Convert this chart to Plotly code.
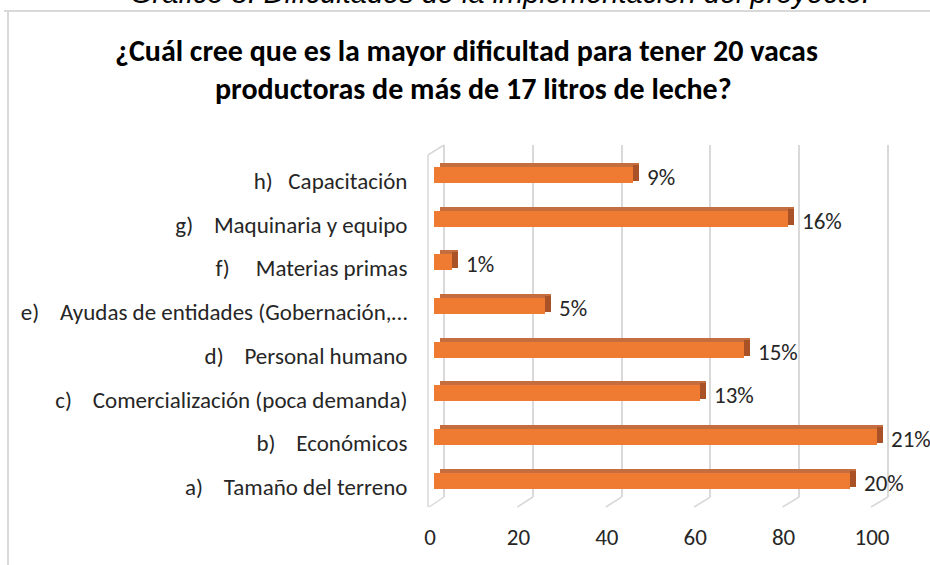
import plotly.graph_objects as go

# ---------------- data ----------------
categories = [
    "a)\u00a0\u00a0\u00a0\u00a0Tamaño del terreno",
    "b)\u00a0\u00a0\u00a0\u00a0Económicos",
    "c)\u00a0\u00a0\u00a0\u00a0Comercialización (poca demanda)",
    "d)\u00a0\u00a0\u00a0\u00a0Personal humano",
    "e)\u00a0\u00a0\u00a0\u00a0Ayudas de entidades (Gobernación,…",
    "f)\u00a0\u00a0\u00a0\u00a0\u00a0Materias primas",
    "g)\u00a0\u00a0\u00a0\u00a0Maquinaria y equipo",
    "h)\u00a0\u00a0\u00a0Capacitación",
]
values = [94, 100, 60, 70, 25, 4, 80, 45]
pct_labels = ["20%", "21%", "13%", "15%", "5%", "1%", "16%", "9%"]
x_ticks = [0, 20, 40, 60, 80, 100]

title_line1 = "¿Cuál cree que es la mayor dificultad para tener 20 vacas"
title_line2 = "productoras de más de 17 litros de leche?"
caption = "Gráfico 8. Dificultades de la implementación del proyecto."

# ---------------- geometry (pixels) ----------------
W, H = 930, 565
PL, PR, PT, PB = 420, 900, 145, 497          # plot area in pixels
pw, ph = PR - PL, PB - PT
bar0, bar_s = 434, 4.43                        # bar axis: pixel of 0, px per unit
grid0, grid_s = 444, 4.44                      # back-wall gridlines
lab0, lab_s = 430, 4.42                        # front tick labels
yrange = [-0.23, 7.82]
ypx = ph / (yrange[1] - yrange[0])

def rng(p0, s):
    return [(PL - p0) / s, (PR - p0) / s]

def py(p):  # pixel y -> paper
    return (PB - p) / ph

def px(p):  # pixel x -> paper
    return (p - PL) / pw

bw = 16 / ypx                  # bar thickness
front_off = 6 / ypx - bw / 2   # front face centre 6 px above category
depth_y = 4 / ypx
depth_x = 6 / bar_s

font_fam = "Carlito, Lato, 'Open Sans', sans-serif"
txt_col = "#262626"

fig = go.Figure()

# top (depth) face
fig.add_trace(go.Bar(
    y=categories, x=values, base=depth_x, orientation="h",
    width=bw, offset=front_off + depth_y,
    marker=dict(color="#c46d3e", line=dict(width=0)),
    hoverinfo="skip", showlegend=False,
))
# side face
fig.add_trace(go.Bar(
    y=categories, x=[depth_x] * len(values), base=values, orientation="h",
    width=bw, offset=front_off + depth_y * 0.5,
    marker=dict(color="#a95227", line=dict(width=0)),
    hoverinfo="skip", showlegend=False,
))
# front face
fig.add_trace(go.Bar(
    y=categories, x=values, orientation="h",
    width=bw, offset=front_off,
    marker=dict(color="#ef7a31", line=dict(width=0)),
    showlegend=False,
))
# dummy traces so the overlay axes render
fig.add_trace(go.Scatter(x=[None], y=[None], xaxis="x2", yaxis="y",
                         showlegend=False, hoverinfo="skip"))
fig.add_trace(go.Scatter(x=[None], y=[None], xaxis="x3", yaxis="y",
                         showlegend=False, hoverinfo="skip"))

# data labels
for c, v, t in zip(categories, values, pct_labels):
    fig.add_annotation(x=v, y=c, xref="x", yref="y", text=t,
                       xanchor="left", yanchor="middle", xshift=12, yshift=4,
                       showarrow=False,
                       font=dict(family=font_fam, size=23, color=txt_col))

# caption (cut off at top), title
fig.add_annotation(x=px(500), y=py(-7), xref="paper", yref="paper",
                   text="<i>" + caption + "</i>", showarrow=False,
                   xanchor="center", yanchor="middle",
                   font=dict(family="Liberation Sans, Arial", size=29, color="#000"))
fig.add_annotation(x=px(466), y=py(51), xref="paper", yref="paper",
                   text="<b>" + title_line1 + "</b>", showarrow=False,
                   xanchor="center", yanchor="middle",
                   font=dict(family=font_fam, size=30, color="#000"))
fig.add_annotation(x=px(473), y=py(88), xref="paper", yref="paper",
                   text="<b>" + title_line2 + "</b>", showarrow=False,
                   xanchor="center", yanchor="middle",
                   font=dict(family=font_fam, size=30, color="#000"))

# decorations: chart border, left wall, floor lines
shapes = [
    dict(type="line", xref="paper", yref="paper", x0=px(8), x1=px(8),
         y0=py(11), y1=py(580), line=dict(color="#d9d9d9", width=2)),
    dict(type="line", xref="paper", yref="paper", x0=px(4), x1=px(940),
         y0=py(11), y1=py(11), line=dict(color="#d9d9d9", width=2)),
    dict(type="line", xref="paper", yref="paper", x0=px(428), x1=px(428),
         y0=py(155), y1=py(507), line=dict(color="#d9d9d9", width=1.5)),
    dict(type="line", xref="paper", yref="paper", x0=px(428), x1=px(444),
         y0=py(155), y1=py(145), line=dict(color="#d9d9d9", width=1.5)),
]
for v in x_ticks:
    front_px = 429 + lab_s * v
    shapes.append(dict(type="line", xref="x2", yref="paper",
                       x0=v, x1=(front_px - grid0) / grid_s,
                       y0=0, y1=py(507),
                       line=dict(color="#d9d9d9", width=1.5)))

fig.update_layout(
    width=W, height=H,
    margin=dict(l=PL, r=W - PR, t=PT, b=H - PB, pad=0),
    paper_bgcolor="white", plot_bgcolor="rgba(0,0,0,0)",
    barmode="overlay", bargap=0,
    shapes=shapes,
    xaxis=dict(range=rng(bar0, bar_s), showgrid=False, zeroline=False,
               showticklabels=False, showline=False, fixedrange=True),
    xaxis2=dict(range=rng(grid0, grid_s), overlaying="x", anchor="y",
                tickvals=x_ticks, showgrid=True, gridcolor="#d9d9d9",
                gridwidth=1.5, zeroline=False, showticklabels=False,
                showline=False),
    xaxis3=dict(range=rng(lab0, lab_s), overlaying="x", anchor="y", side="bottom",
                tickvals=x_ticks, ticktext=[str(t) for t in x_ticks],
                showgrid=False, zeroline=False, showline=False,
                ticks="outside", ticklen=19, tickcolor="rgba(0,0,0,0)",
                tickfont=dict(family=font_fam, size=23, color=txt_col)),
    yaxis=dict(range=yrange, categoryorder="array", categoryarray=categories,
               showgrid=False, zeroline=False, showline=False,
               ticks="outside", ticklen=7, tickcolor="rgba(0,0,0,0)",
               tickfont=dict(family=font_fam, size=23, color=txt_col)),
)

fig.write_html("out.html", config={"displayModeBar": False},
               post_script="document.body.style.margin='0';document.body.style.overflow='hidden';")
